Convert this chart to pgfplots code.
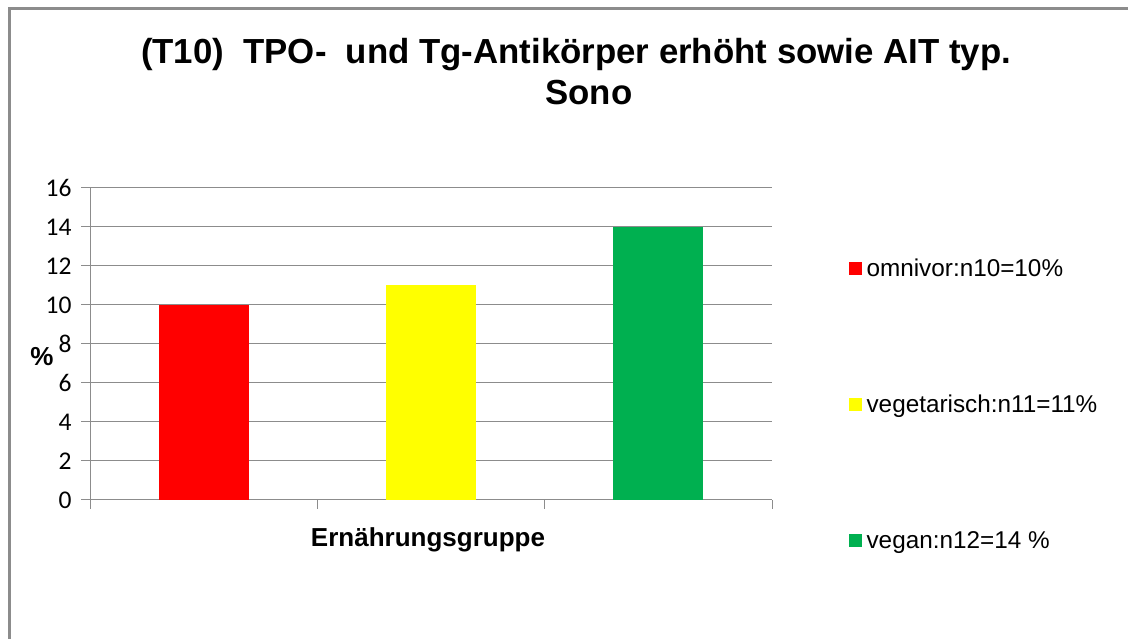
\documentclass[border=0pt]{standalone}
\usepackage{fontspec}
\setmainfont{Liberation Sans}
\newfontfamily\carlito{Carlito}
\usepackage{pgfplots}
\pgfplotsset{compat=1.18}
\definecolor{gridgray}{HTML}{8C8C8C}
\definecolor{framegray}{HTML}{8C8C8C}
\definecolor{vgreen}{HTML}{00B050}
\definecolor{vyellow}{HTML}{FFFF00}
\begin{document}
\begin{tikzpicture}[x=1pt,y=1pt]
\path[use as bounding box] (0,0) rectangle (1128,639);
\draw[framegray,line width=3pt] (9.5,-5) -- (9.5,630.5) -- (1135,630.5);
\begin{axis}[
  at={(90pt,139pt)}, anchor=south west,
  width=682pt, height=312pt, scale only axis,
  xmin=0, xmax=3, ymin=0, ymax=16,
  ytick={0,2,...,16},
  xtick={0,1,2,3}, xticklabels={},
  axis x line*=bottom, axis y line*=left,
  axis line style={gridgray, line width=1pt, -},
  ymajorgrids, major grid style={gridgray, line width=1pt},
  tick style={gridgray, line width=1pt},
  tick align=outside,
  major tick length=9pt,
  /pgf/number format/assume math mode=true,
  yticklabel style={font=\carlito\fontsize{25.5}{30}\selectfont, text=black, xshift=-6pt},
  ybar, bar width=90pt, bar shift=0pt,
  clip=false,
  legend style={at={(1.112,0.779)}, anchor=north west, draw=none, fill=none,
    font=\fontsize{24.3}{28}\selectfont, row sep=113pt, inner sep=0pt,
    cells={anchor=west}},
  legend image code/.code={\fill[#1] (0pt,-6.5pt) rectangle (13pt,6.5pt);},
]
\addplot[draw=none, fill=red] coordinates {(0.5,10)};
\addlegendentry{\hspace{3pt}omnivor:n10=10\%}
\addplot[draw=none, fill=vyellow] coordinates {(1.5,11)};
\addlegendentry{\hspace{3pt}vegetarisch:n11=11\%}
\addplot[draw=none, fill=vgreen] coordinates {(2.5,14)};
\addlegendentry{\hspace{3pt}vegan:n12=14 \%}
\end{axis}
\node[font=\bfseries\fontsize{26}{30}\selectfont] at (42,282) {\%};
\node[font=\bfseries\fontsize{26}{30}\selectfont, anchor=base] at (428,92) {Ernährungsgruppe};
\node[font=\bfseries\fontsize{34.8}{40}\selectfont, anchor=base] at (576,575) {(T10)\ \ TPO-\ \ und Tg-Antikörper erhöht sowie AIT typ.};
\node[font=\bfseries\fontsize{34.8}{40}\selectfont, anchor=base] at (589,534) {Sono};
\end{tikzpicture}
\end{document}
